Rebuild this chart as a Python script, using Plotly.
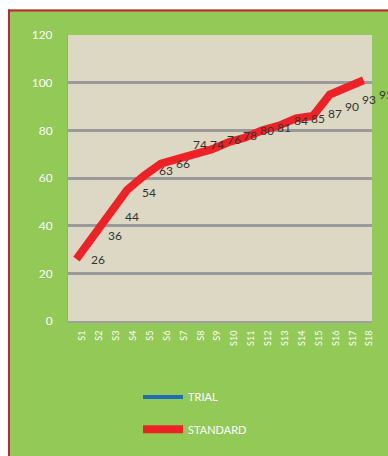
import plotly.graph_objects as go

categories = [f"S{i}" for i in range(1, 19)]
standard = [26, 36, 45, 55, 61, 66, 68, 70, 72, 75, 77, 80, 82, 85, 86, 95, 98, 101]
trial_labels = [26, 36, 44, 54, 63, 66, 74, 74, 76, 78, 80, 81, 84, 85, 87, 90, 93, 95]
y_ticks = [0, 20, 40, 60, 80, 100, 120]

GREEN = "#92C957"
RED_BORDER = "#C3262C"
FONT = "Lato, Open Sans, sans-serif"

fig = go.Figure()

# TRIAL: only its data labels are visible in the chart; a single-point line draws no segment
fig.add_trace(go.Scatter(
    x=categories[:1], y=trial_labels[:1], name="TRIAL", mode="lines",
    line=dict(color="#1F6DB4", width=4), legend="legend", hoverinfo="skip",
))
fig.add_trace(go.Scatter(
    x=categories, y=standard, name="STANDARD", mode="lines",
    line=dict(color="#EE2226", width=8), legend="legend2",
))

for c, v in zip(categories, trial_labels):
    fig.add_annotation(x=c, y=v, text=str(v), showarrow=False, xshift=22,
                       font=dict(family=FONT, size=12, color="#333333"))

# plot area pixel geometry: left 68, right 372, top 35, bottom 328
L, R, T, B = 68, 372, 35, 328
W, H = R - L, B - T
px = lambda p: (p - L) / W
py = lambda p: (B - p) / H

shapes = [
    dict(type="rect", xref="paper", yref="paper", x0=px(-10), x1=px(8), y0=py(500), y1=py(-10),
         fillcolor="white", line=dict(width=0), layer="above"),
    dict(type="rect", xref="paper", yref="paper", x0=px(-10), x1=px(400), y0=py(9), y1=py(-10),
         fillcolor="white", line=dict(width=0), layer="above"),
    dict(type="line", xref="paper", yref="paper", x0=px(9), x1=px(9), y0=py(500), y1=py(9),
         line=dict(color=RED_BORDER, width=2), layer="above"),
    dict(type="line", xref="paper", yref="paper", x0=px(8), x1=px(400), y0=py(10), y1=py(10),
         line=dict(color=RED_BORDER, width=2), layer="above"),
]

fig.update_layout(
    width=388, height=456,
    margin=dict(l=L, r=388 - R, t=T, b=456 - B),
    paper_bgcolor=GREEN, plot_bgcolor="#DDD8C4",
    font=dict(family=FONT, color="white"),
    shapes=shapes,
    showlegend=True,
    legend=dict(x=px(138), y=py(391), xanchor="left", yanchor="top",
                bgcolor="rgba(0,0,0,0)", font=dict(size=11, color="white"), itemwidth=40),
    legend2=dict(x=px(138), y=py(424), xanchor="left", yanchor="top",
                 bgcolor="rgba(0,0,0,0)", font=dict(size=11, color="white"), itemwidth=40),
    xaxis=dict(
        type="category", range=[-0.5, len(categories) - 0.5],
        tickangle=-90, tickfont=dict(size=9, color="white"),
        showgrid=False, showline=True, linecolor="#A0A0A0", linewidth=2,
        ticks="", ticklabelstandoff=4, ticklabelshift=6,
    ),
    yaxis=dict(
        range=[0, 120], tickvals=y_ticks, tickfont=dict(size=12, color="white"),
        showgrid=True, gridcolor="#9A9A9A", gridwidth=2.5,
        showline=True, linecolor="#A0A0A0", linewidth=1,
        zeroline=False, ticks="", ticklabelstandoff=12,
    ),
)

fig.write_html("out.html")
